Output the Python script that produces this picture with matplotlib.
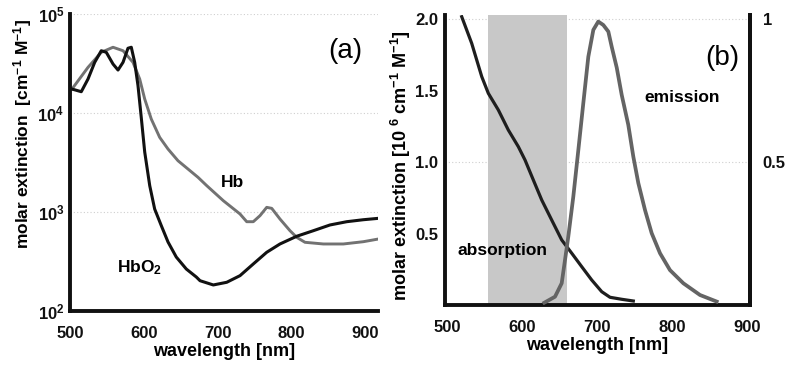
import matplotlib
matplotlib.use("Agg")
import matplotlib.pyplot as plt

fam = ['Liberation Sans', 'DejaVu Sans']
plt.rcParams['font.family'] = fam
plt.rcParams['mathtext.fontset'] = 'custom'
plt.rcParams['mathtext.rm'] = 'Liberation Sans:bold'
plt.rcParams['mathtext.it'] = 'Liberation Sans:bold'
plt.rcParams['mathtext.bf'] = 'Liberation Sans:bold'

# Panel (a): hemoglobin molar extinction (log10 of values)
hbo2_nm = [502.7, 515.3, 524.4, 533.5, 542.4, 549.2, 558.3, 565.1, 571.9, 578.6, 583.1,
           587.7, 592.2, 596.7, 601.3, 608.1, 614.8, 623.8, 632.9, 644.1, 657.7, 671.3,
           676.3, 694.3, 712.5, 730.5, 748.5, 766.7, 784.7, 807.4, 829.9, 852.5, 875.2,
           897.7, 918]
hbo2_log = [4.242, 4.215, 4.343, 4.512, 4.629, 4.613, 4.495, 4.434, 4.512, 4.654, 4.664,
            4.512, 4.276, 3.949, 3.606, 3.266, 3.030, 2.862, 2.697, 2.545, 2.424, 2.343,
            2.306, 2.263, 2.290, 2.357, 2.475, 2.593, 2.677, 2.755, 2.811, 2.869, 2.902,
            2.922, 2.936]
hb_nm = [502.7, 524.4, 542.4, 558.3, 571.9, 585.4, 594.5, 601.3, 610.2, 621.6, 632.9,
         646.4, 660.0, 673.6, 685.4, 707.9, 730.5, 739.6, 748.5, 757.6, 766.7, 773.5,
         784.7, 798.3, 807.4, 818.6, 843.5, 870.6, 897.7, 918]
hb_log = [4.242, 4.461, 4.613, 4.664, 4.629, 4.512, 4.343, 4.141, 3.939, 3.754, 3.636,
          3.518, 3.434, 3.350, 3.266, 3.114, 2.980, 2.902, 2.902, 2.963, 3.047, 3.037,
          2.929, 2.811, 2.744, 2.694, 2.677, 2.677, 2.700, 2.727]
hbo2_val = [10 ** v for v in hbo2_log]
hb_val = [10 ** v for v in hb_log]

# Panel (b): absorption (left axis) and emission (right axis)
abs_nm = [519.6, 532.9, 546.3, 555.1, 568.4, 581.7, 595.1, 604.0, 615.1, 626.3, 639.6,
          652.9, 666.3, 679.6, 692.9, 706.3, 717.3, 732.9, 748.4]
abs_val = [2.016, 1.830, 1.597, 1.480, 1.364, 1.224, 1.107, 1.014, 0.874, 0.734, 0.594,
           0.455, 0.362, 0.268, 0.175, 0.093, 0.054, 0.040, 0.028]
em_nm = [629.7, 644.0, 652.9, 657.3, 661.7, 668.4, 675.1, 681.7, 688.4, 695.1, 701.7,
         708.4, 715.1, 719.6, 726.3, 732.9, 741.7, 748.4, 755.1, 764.0, 772.9, 784.0,
         797.3, 815.1, 837.3, 859.6]
em_val = [0.008, 0.029, 0.076, 0.157, 0.239, 0.379, 0.542, 0.705, 0.868, 0.962, 0.991,
          0.979, 0.956, 0.903, 0.830, 0.735, 0.630, 0.519, 0.426, 0.332, 0.251, 0.181,
          0.122, 0.076, 0.035, 0.012]
band = [555, 660]

x_ticks = [500, 600, 700, 800, 900]
a_yticks = [1e2, 1e3, 1e4, 1e5]
a_yticklabels = ['$10^2$', '$10^3$', '$10^4$', '$10^5$']
b_yticks = [0.5, 1.0, 1.5, 2.0]
b_yticklabels = ['0.5', '1.0', '1.5', '2.0']
b_rticks = [0.5, 1.0]
b_rticklabels = ['0.5', '1']

W, H = 785, 365
fig = plt.figure(figsize=(7.85, 3.65), dpi=100)


def rect(l, r, t, b):
    return [l / W, (H - b) / H, (r - l) / W, (b - t) / H]


ink = '#111111'
fs_tick = 12
spw = 2.8
grid_kw = dict(color='#cfcfcf', lw=0.8, ls=(0, (1, 2)), zorder=0)

# ---------- panel a ----------
ax = fig.add_axes(rect(70, 378, 14, 311))
ax.set_yscale('log')
ax.set_xlim(500, 917.6)
ax.set_ylim(100, 1e5)
for v in [1e3, 1e4, 1e5]:
    ax.axhline(v, **grid_kw)
ax.plot(hb_nm, hb_val, color='#727272', lw=2.1, solid_joinstyle='round')
ax.plot(hbo2_nm, hbo2_val, color=ink, lw=2.2, solid_joinstyle='round')
for s in ['top', 'right']:
    ax.spines[s].set_visible(False)
for s in ['left', 'bottom']:
    ax.spines[s].set_linewidth(spw)
    ax.spines[s].set_color(ink)
ax.set_xticks(x_ticks)
ax.set_xticklabels([str(v) for v in x_ticks], fontweight='bold', fontsize=fs_tick)
ax.set_yticks(a_yticks)
ax.set_yticklabels(a_yticklabels, fontsize=fs_tick)
ax.yaxis.set_minor_locator(matplotlib.ticker.NullLocator())
ax.tick_params(length=0, colors=ink)
ax.tick_params(axis='x', pad=11)
ax.tick_params(axis='y', pad=4)
ax.set_xlabel('wavelength [nm]', fontweight='bold', fontsize=13, labelpad=1)
fig.text(23 / W, 1 - 134 / H, 'molar extinction  [cm$^{-1}$ M$^{-1}$]', rotation=90,
         fontweight='bold', fontsize=12.5, ha='center', va='center')
ax.text(0.895, 0.875, '(a)', fontsize=20, ha='center', va='center',
        transform=ax.transAxes)
ax.text(0.526, 0.434, 'Hb', fontweight='bold', fontsize=12.5, ha='center',
        va='center', transform=ax.transAxes)
ax.text(0.227, 0.131, 'HbO$_2$', fontsize=12.5, ha='center', va='baseline',
        fontweight='bold', transform=ax.transAxes)

# ---------- panel b ----------
bx = fig.add_axes(rect(445, 750, 15, 305))
bx.set_xlim(497.3, 904)
bx.set_ylim(0, 2.028)
bx.axhline(2.0, **grid_kw)
bx.axhline(1.0, **grid_kw)
bx.axvspan(band[0], band[1], color='#c8c8c8', lw=0, zorder=0.5)
bx.plot(abs_nm, abs_val, color='#1e1e1e', lw=2.3, zorder=3, solid_joinstyle='round')
bx.spines['top'].set_visible(False)
for s in ['left', 'bottom', 'right']:
    bx.spines[s].set_linewidth(spw)
    bx.spines[s].set_color(ink)
bx.set_xticks(x_ticks)
bx.set_xticklabels([str(v) for v in x_ticks], fontweight='bold', fontsize=fs_tick)
bx.set_yticks(b_yticks)
bx.set_yticklabels(b_yticklabels, fontweight='bold', fontsize=fs_tick)
bx.tick_params(length=0, colors=ink)
bx.tick_params(axis='x', pad=11)
bx.tick_params(axis='y', pad=5)
bx.set_xlabel('wavelength [nm]', fontweight='bold', fontsize=13, labelpad=1)
fig.text(401 / W, 1 - 166 / H, 'molar extinction [10 $^6$ cm$^{-1}$ M$^{-1}$]',
         rotation=90, fontweight='bold', fontsize=13, ha='center', va='center')
bx.text((722 - 445) / 305, (305 - 58) / 290, '(b)', fontsize=20, ha='center',
        va='center', transform=bx.transAxes)
bx.text((682 - 445) / 305, (305 - 97) / 290, 'emission', fontsize=12.5,
        fontweight='bold', ha='center', va='center', transform=bx.transAxes)
bx.text((502 - 445) / 305, (305 - 251) / 290, 'absorption', fontsize=12.5,
        fontweight='bold', ha='center', va='center', transform=bx.transAxes)

rx = bx.twinx()
rx.set_ylim(0, 1.014)
rx.plot(em_nm, em_val, color='#646464', lw=2.7, zorder=3, solid_joinstyle='round')
for s in ['top', 'left', 'bottom']:
    rx.spines[s].set_visible(False)
rx.spines['right'].set_linewidth(spw)
rx.spines['right'].set_color(ink)
rx.set_yticks(b_rticks)
rx.set_yticklabels(b_rticklabels, fontweight='bold', fontsize=fs_tick)
rx.tick_params(length=0, pad=9, colors=ink)

fig.savefig('out.png', dpi=100)
